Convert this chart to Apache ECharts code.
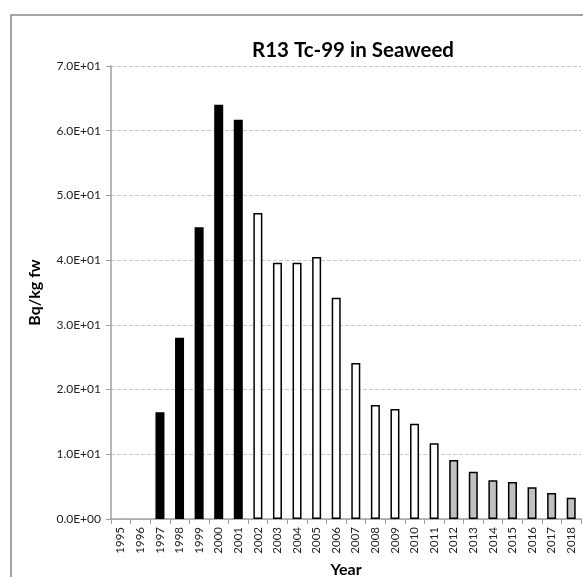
<!DOCTYPE html>
<html>
<head>
<meta charset="utf-8">
<script src="https://cdn.jsdelivr.net/npm/echarts@6/dist/echarts.min.js"></script>
<style>html,body{margin:0;padding:0;background:#fff;overflow:hidden}#c{width:583px;height:577px}</style>
</head>
<body>
<div id="c"></div>
<script>
var years = ['1995','1996','1997','1998','1999','2000','2001','2002','2003','2004','2005','2006','2007','2008','2009','2010','2011','2012','2013','2014','2015','2016','2017','2018'];
var values = [null, null, 16.5, 28.0, 45.1, 64.0, 61.7, 47.3, 39.6, 39.6, 40.5, 34.2, 24.1, 17.6, 17.0, 14.7, 11.7, 9.1, 7.3, 6.0, 5.7, 4.9, 4.0, 3.3];
var groups = ['b','b','b','b','b','b','b','w','w','w','w','w','w','w','w','w','w','g','g','g','g','g','g','g'];
var groupColors = {b:'#000000', w:'#ffffff', g:'#c0c0c0'};

var data = values.map(function(v,i){
  return {value: v, itemStyle: {color: groupColors[groups[i]], borderColor:'#000', borderWidth: 1.5}};
});

var chart = echarts.init(document.getElementById('c'));
chart.setOption({
  animation: false,
  graphic: [{type:'rect', shape:{x:11,y:15,width:600,height:600}, style:{fill:'none', stroke:'#888', lineWidth:1.5}, silent:true, z:-1}],
  title: {text:'R13 Tc-99 in Seaweed', left:348, top:35, textAlign:'center',
    textStyle:{fontFamily:'Lato', fontWeight:'bold', fontSize:20.5, color:'#000'}},
  grid: {left:111, right:2, top:66, bottom:58, containLabel:false, outerBoundsMode:'none'},
  xAxis: {type:'category', data: years, name:'Year', nameLocation:'middle', nameGap:43,
    nameTextStyle:{fontFamily:'Lato', fontWeight:'bold', fontSize:16, color:'#000'},
    axisLine:{lineStyle:{color:'#a0a0a0', width:1.5}},
    axisTick:{show:true, alignWithLabel:false, length:5, lineStyle:{color:'#a0a0a0'}},
    axisLabel:{rotate:90, fontFamily:'Lato', fontSize:11.5, color:'#222', margin:8}},
  yAxis: {type:'value', min:0, max:70, interval:10, name:'Bq/kg fw', nameLocation:'middle', nameGap:68,
    nameTextStyle:{fontFamily:'Lato', fontWeight:'bold', fontSize:16, color:'#000'},
    axisLine:{show:true, lineStyle:{color:'#a0a0a0', width:1.5}},
    axisTick:{show:true, length:5, lineStyle:{color:'#a0a0a0'}},
    axisLabel:{fontFamily:'Lato', fontSize:12, color:'#222', margin:10,
      formatter:function(v){ return v.toExponential(1).replace('e+','E+0').replace(/E\+0(\d\d)/,'E+$1'); }},
    splitLine:{show:true, lineStyle:{color:'#c8c8c8', type:'dashed'}}},
  series: [{type:'bar', data:data, barWidth:'46%'}]
});
</script>
</body>
</html>
